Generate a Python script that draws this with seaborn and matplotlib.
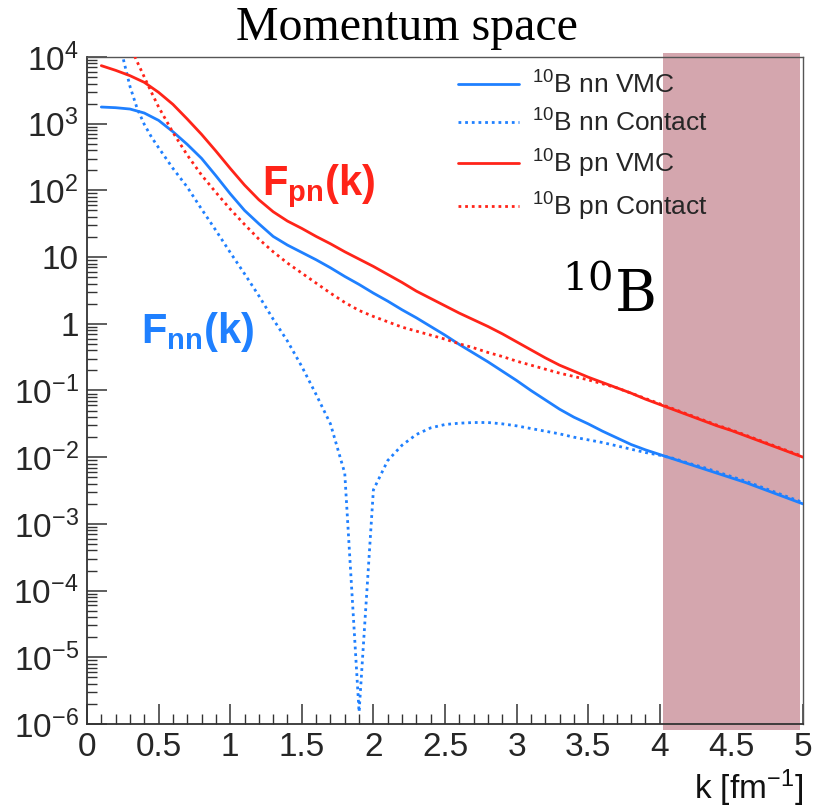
import matplotlib
matplotlib.use("Agg")
import numpy as np
import pandas as pd
import matplotlib.pyplot as plt
import seaborn as sns
from matplotlib.patches import Rectangle
from matplotlib.ticker import FixedLocator, FixedFormatter, LogLocator, MultipleLocator, NullFormatter

# Momentum grid (fm^-1)
k_vmc = [0.1, 0.2, 0.3, 0.4, 0.5, 0.6, 0.7, 0.8, 0.9, 1.0,
         1.1, 1.2, 1.3, 1.4, 1.5, 1.6, 1.7, 1.8, 1.9, 2.0,
         2.1, 2.2, 2.3, 2.4, 2.5, 2.6, 2.7, 2.8, 2.9, 3.0,
         3.1, 3.2, 3.3, 3.4, 3.5, 3.6, 3.7, 3.8, 3.9, 4.0,
         4.1, 4.2, 4.3, 4.4, 4.5, 4.6, 4.7, 4.8, 4.9, 5.0]
k_contact = [0.2, 0.25, 0.3, 0.35, 0.4, 0.45, 0.5, 0.6, 0.7, 0.8, 0.9, 1.0,
             1.1, 1.2, 1.3, 1.4, 1.5, 1.6, 1.7, 1.8, 1.9, 2.0,
             2.1, 2.2, 2.3, 2.4, 2.5, 2.6, 2.7, 2.8, 2.9, 3.0,
             3.1, 3.2, 3.3, 3.4, 3.5, 3.6, 3.7, 3.8, 3.9, 4.0,
             4.1, 4.2, 4.3, 4.4, 4.5, 4.6, 4.7, 4.8, 4.9, 5.0]

# log10 of the momentum distributions
log_nn_vmc = [3.25, 3.24, 3.22, 3.16, 3.05, 2.88, 2.69, 2.48, 2.22, 1.95,
              1.70, 1.50, 1.31, 1.18, 1.07, 0.96, 0.84, 0.71, 0.59, 0.46,
              0.34, 0.21, 0.09, -0.04, -0.17, -0.31, -0.44, -0.57, -0.71, -0.85,
              -1.00, -1.14, -1.28, -1.40, -1.50, -1.61, -1.71, -1.81, -1.89, -1.96,
              -2.03, -2.10, -2.17, -2.24, -2.31, -2.38, -2.46, -2.54, -2.62, -2.70]
log_pn_vmc = [3.87, 3.80, 3.72, 3.62, 3.47, 3.29, 3.07, 2.84, 2.59, 2.33,
              2.08, 1.86, 1.68, 1.54, 1.43, 1.31, 1.20, 1.08, 0.97, 0.86,
              0.74, 0.62, 0.49, 0.38, 0.27, 0.16, 0.06, -0.04, -0.15, -0.27,
              -0.39, -0.51, -0.62, -0.71, -0.80, -0.88, -0.96, -1.04, -1.13, -1.21,
              -1.29, -1.37, -1.45, -1.53, -1.60, -1.68, -1.76, -1.84, -1.92, -2.00]
log_nn_contact = [4.45, 4.00, 3.56, 3.23, 2.99, 2.80, 2.64, 2.33, 2.05, 1.72, 1.40, 1.07,
                  0.75, 0.42, 0.07, -0.26, -0.64, -1.06, -1.50, -2.24, -5.82, -2.49,
                  -2.05, -1.82, -1.66, -1.56, -1.51, -1.49, -1.48, -1.48, -1.50, -1.53,
                  -1.57, -1.61, -1.65, -1.70, -1.74, -1.78, -1.83, -1.88, -1.93, -1.97,
                  -2.02, -2.09, -2.15, -2.22, -2.29, -2.36, -2.44, -2.52, -2.60, -2.68]
log_pn_contact = [4.65, 4.41, 4.17, 3.93, 3.70, 3.47, 3.25, 2.87, 2.53, 2.23, 1.97, 1.72,
                  1.49, 1.27, 1.08, 0.91, 0.76, 0.61, 0.46, 0.32, 0.20, 0.11,
                  0.03, -0.05, -0.11, -0.17, -0.23, -0.30, -0.36, -0.43, -0.49, -0.56,
                  -0.62, -0.68, -0.74, -0.79, -0.84, -0.90, -0.96, -1.04, -1.12, -1.20,
                  -1.28, -1.36, -1.44, -1.52, -1.59, -1.67, -1.75, -1.83, -1.91, -1.99]

series_labels = [r"$^{10}$B nn VMC", r"$^{10}$B nn Contact",
                 r"$^{10}$B pn VMC", r"$^{10}$B pn Contact"]
x_ticks = [0, 0.5, 1, 1.5, 2, 2.5, 3, 3.5, 4, 4.5, 5]
x_tick_labels = ["0", "0.5", "1", "1.5", "2", "2.5", "3", "3.5", "4", "4.5", "5"]
y_tick_labels = [r"$10^{-6}$", r"$10^{-5}$", r"$10^{-4}$", r"$10^{-3}$", r"$10^{-2}$",
                 r"$10^{-1}$", "1", "10", r"$10^{2}$", r"$10^{3}$", r"$10^{4}$"]
high_k_band = (4.02, 4.98)

BLUE = "#1f80ff"
RED = "#ff2419"
BAND = "#d4a6ae"

sns.set_theme(style="ticks")
plt.rcParams["font.family"] = ["Liberation Sans", "DejaVu Sans"]
plt.rcParams["mathtext.fontset"] = "custom"
plt.rcParams["mathtext.rm"] = "Liberation Sans"
plt.rcParams["mathtext.it"] = "Liberation Sans:italic"
plt.rcParams["mathtext.bf"] = "Liberation Sans:bold"

fig = plt.figure(figsize=(8.13, 8.08), dpi=100)
ax = fig.add_axes([87 / 813, 84 / 808, 716 / 813, 667 / 808])

frames = {
    "nn VMC": pd.DataFrame({"k": k_vmc, "F": np.power(10.0, log_nn_vmc)}),
    "nn Contact": pd.DataFrame({"k": k_contact, "F": np.power(10.0, log_nn_contact)}),
    "pn VMC": pd.DataFrame({"k": k_vmc, "F": np.power(10.0, log_pn_vmc)}),
    "pn Contact": pd.DataFrame({"k": k_contact, "F": np.power(10.0, log_pn_contact)}),
}
styles = {
    "nn VMC": dict(color=BLUE, linestyle="-"),
    "nn Contact": dict(color=BLUE, linestyle=(0, (1.0, 1.4))),
    "pn VMC": dict(color=RED, linestyle="-"),
    "pn Contact": dict(color=RED, linestyle=(0, (1.0, 1.4))),
}
handles = []
for name in frames:
    sns.lineplot(data=frames[name], x="k", y="F", ax=ax, linewidth=2.0,
                 estimator=None, sort=False, zorder=3, **styles[name])
    handles.append(ax.lines[-1])

ax.set_yscale("log")
ax.set_xlim(0, 5)
ax.set_ylim(1e-6, 1e4)

# high-momentum band, slightly overhanging the frame
ax.add_patch(Rectangle((high_k_band[0], -0.009), high_k_band[1] - high_k_band[0], 1.015,
                       transform=ax.get_xaxis_transform(), facecolor=BAND,
                       edgecolor="none", clip_on=False, zorder=1.5))

ax.xaxis.set_major_locator(FixedLocator(x_ticks))
ax.xaxis.set_major_formatter(FixedFormatter(x_tick_labels))
ax.xaxis.set_minor_locator(MultipleLocator(0.1))
ax.yaxis.set_major_locator(FixedLocator([10.0 ** e for e in range(-6, 5)]))
ax.yaxis.set_major_formatter(FixedFormatter(y_tick_labels))
ax.yaxis.set_minor_locator(LogLocator(base=10, subs=np.arange(2, 10), numticks=30))
ax.yaxis.set_minor_formatter(NullFormatter())

ax.tick_params(which="both", direction="in", top=False, right=False,
               color="#333333", labelsize=24, pad=6)
ax.tick_params(which="major", length=14.5, width=1.1)
ax.tick_params(which="minor", length=7.2, width=1.0)
for side in ("left", "bottom"):
    ax.spines[side].set_color("#333333")
    ax.spines[side].set_linewidth(1.3)
for side in ("top", "right"):
    ax.spines[side].set_color("#555555")
    ax.spines[side].set_linewidth(1.0)
ax.grid(False)
ax.set_ylabel("")
ax.set_xlabel("")

ax.text(1.0, -0.112, r"k [fm$^{-1}$]", transform=ax.transAxes, ha="right",
        va="baseline", fontsize=24, color="#111111")

fig.text(0.5, 1 - 40 / 808, "Momentum space", ha="center", va="baseline",
         fontfamily="Liberation Serif", fontsize=34.5, color="black")

ax.text(1.222, 10 ** 1.93, r"$\mathbf{F_{pn}(k)}$", color=RED, fontsize=30,
        va="baseline", ha="left", zorder=4)
ax.text(0.377, 10 ** -0.29, r"$\mathbf{F_{nn}(k)}$", color=BLUE, fontsize=30,
        va="baseline", ha="left", zorder=4)
ax.text(3.32, 10 ** 0.177, r"$^{10}$B", fontfamily="DejaVu Serif",
        math_fontfamily="dejavuserif", fontsize=41, va="baseline", ha="left",
        color="black", zorder=4)

ax.legend(handles, series_labels, loc="upper left", bbox_to_anchor=(0.518, 0.979),
          frameon=False, fontsize=19, handlelength=2.3, handletextpad=0.5,
          labelspacing=0.42, borderpad=0, borderaxespad=0)

fig.savefig("out.png", dpi=100)
